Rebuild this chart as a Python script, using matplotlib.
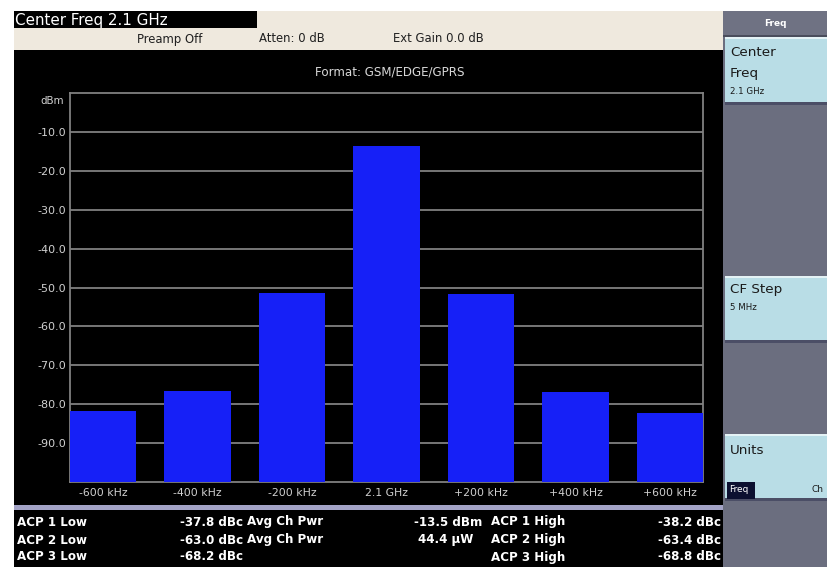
import numpy as np
import matplotlib
matplotlib.use("Agg")
import matplotlib.pyplot as plt
from matplotlib.patches import Rectangle

# --- data ---
offset_labels = ["-600 kHz", "-400 kHz", "-200 kHz", "2.1 GHz", "+200 kHz", "+400 kHz", "+600 kHz"]
power_dbm = [-81.7, -76.5, -51.3, -13.5, -51.7, -76.9, -82.3]
ytick_vals = [-90, -80, -70, -60, -50, -40, -30, -20, -10]

low_names = ["ACP 1 Low", "ACP 2 Low", "ACP 3 Low"]
low_vals = ["-37.8 dBc", "-63.0 dBc", "-68.2 dBc"]
mid_names = ["Avg Ch Pwr", "Avg Ch Pwr", ""]
mid_vals = ["-13.5 dBm", "44.4 \u03bcW", ""]
high_names = ["ACP 1 High", "ACP 2 High", "ACP 3 High"]
high_vals = ["-38.2 dBc", "-63.4 dBc", "-68.8 dBc"]

W, H = 828, 567
plt.rcParams["font.family"] = ["DejaVu Sans"]

fig = plt.figure(figsize=(W / 100, H / 100), dpi=100, facecolor="white")

# background "screen" drawn in pixel coordinates
bg = fig.add_axes([0, 0, 1, 1], zorder=0)
bg.set_xlim(0, W)
bg.set_ylim(H, 0)
bg.axis("off")


def box(x0, y0, x1, y1, color, **kw):
    bg.add_patch(Rectangle((x0, y0), x1 - x0, y1 - y0, facecolor=color, edgecolor="none", **kw))


box(14, 11, 723, H, "black")
box(257, 11, 723, 28, "#efe9de")
box(14, 28, 723, 50, "#efe9de")
box(14, 505, 723, 510, "#a3a3c6")

# soft-key panel
box(723, 11, W, H, "#6b6e7f")
box(723, 11, W, 35, "#6f7283")
box(723, 35, W, 37, "#4a4d5c")
for y0, y1 in [(37, 102), (276, 340), (434, 498)]:
    box(725, y0 + 3, W, y1 + 3, "#4b4e66")
    box(725, y0, W, y1, "#b9dde6")
    box(725, y0, W, y0 + 2, "#e4f2f5")
box(727, 482, 755, 499, "#0c1030")

bg.text(15, 20, "Center Freq 2.1 GHz", color="white", fontsize=10.9, va="center", ha="left")
bg.text(137, 39, "Preamp Off", color="#202020", fontsize=8.4, va="center")
bg.text(259, 39, "Atten: 0 dB", color="#202020", fontsize=8.4, va="center")
bg.text(393, 39, "Ext Gain 0.0 dB", color="#202020", fontsize=8.4, va="center")
bg.text(390, 72, "Format: GSM/EDGE/GPRS", color="#d8d8d8", fontsize=8.6, va="center", ha="center")

bg.text(775, 23, "Freq", color="white", fontsize=6.5, fontweight="bold", va="center", ha="center")
bg.text(730, 53, "Center", color="#1a1a1a", fontsize=9.7, va="center")
bg.text(730, 73, "Freq", color="#1a1a1a", fontsize=9.7, va="center")
bg.text(730, 91, "2.1 GHz", color="#1a1a1a", fontsize=6.2, va="center")
bg.text(730, 290, "CF Step", color="#1a1a1a", fontsize=9.7, va="center")
bg.text(730, 308, "5 MHz", color="#1a1a1a", fontsize=6.2, va="center")
bg.text(730, 450, "Units", color="#1a1a1a", fontsize=9.7, va="center")
bg.text(729, 490, "Freq", color="white", fontsize=6.5, va="center")
bg.text(812, 490, "Ch", color="#1a1a1a", fontsize=6.5, va="center")

# ACP summary table
row_y = [522, 540, 557]
tk = dict(color="white", fontsize=8.6, fontweight="bold", va="center")
for i, y in enumerate(row_y):
    bg.text(17, y, low_names[i], ha="left", **tk)
    bg.text(243, y, low_vals[i], ha="right", **tk)
    bg.text(247, y, mid_names[i], ha="left", **tk)
    bg.text(482 if i == 0 else 473, y, mid_vals[i], ha="right", **tk)
    bg.text(491, y, high_names[i], ha="left", **tk)
    bg.text(721, y, high_vals[i], ha="right", **tk)

# bar chart
left, right, top, bottom = 70, 703, 93, 482
ax = fig.add_axes([left / W, 1 - bottom / H, (right - left) / W, (bottom - top) / H], zorder=1)
ax.set_facecolor("black")
x = np.arange(len(offset_labels))
ax.bar(x, np.array(power_dbm) + 100, bottom=-100, width=0.7, color="#1620f7", zorder=3)
ax.set_xlim(-0.35, len(x) - 0.65)
ax.set_ylim(-100, 0)
ax.set_yticks(ytick_vals)
ax.set_yticklabels([f"{v:.1f}" for v in ytick_vals])
ax.set_xticks(x)
ax.set_xticklabels(offset_labels)
ax.tick_params(length=0, colors="#d0d0d0")
ax.tick_params(axis="y", pad=3, labelsize=8)
ax.tick_params(axis="x", pad=4, labelsize=7.8)
ax.grid(axis="y", color="#808080", linewidth=1.3, zorder=1)
for s in ax.spines.values():
    s.set_color("#808080")
    s.set_linewidth(1.3)
ax.text(-0.01, -2, "dBm", transform=ax.get_yaxis_transform(), ha="right", va="center",
        color="#d0d0d0", fontsize=7.4)

fig.savefig("out.png", dpi=100, facecolor="white")
